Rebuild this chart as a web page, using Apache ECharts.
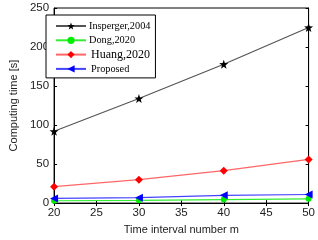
<!DOCTYPE html>
<html><head><meta charset="utf-8">
<script src="https://cdn.jsdelivr.net/npm/echarts@6/dist/echarts.min.js"></script>
<style>html,body{margin:0;padding:0;background:#fff}#c{width:318px;height:240px}</style>
</head><body><div id="c"></div>
<script>
const categories = [20, 30, 40, 50];
const insperger = [92, 134, 178, 225];
const dong = [3, 3.5, 4.5, 5.5];
const huang = [21, 30, 41.5, 56];
const proposed = [6, 7, 10, 11];
const xTicks = [20, 25, 30, 35, 40, 45, 50];
const yTicks = [0, 50, 100, 150, 200, 250];

const star = 'path://M0,-10 L2.35,-3.24 9.51,-3.09 3.8,1.24 5.88,8.09 0,4 -5.88,8.09 -3.8,1.24 -9.51,-3.09 -2.35,-3.24Z';
const chart = echarts.init(document.getElementById('c'));
function pts(arr){ return categories.map((c,i)=>[c, arr[i]]); }
const lbl = {color:'#222', fontFamily:'Liberation Sans, Arial', fontSize:11.5};
function mk(name, data, color, lineColor, symbol, size, rot){
  return {name, type:'line', data:pts(data), symbol, symbolSize:size, symbolRotate:rot||0,
    lineStyle:{color:lineColor, width:1.2}, itemStyle:{color:color}, xAxisIndex:0, yAxisIndex:0, animation:false};
}
chart.setOption({
  animation:false,
  grid:{left:40, right:8, top:8, bottom:29, show:true, borderColor:'#000', borderWidth:1},
  legend:{left:46, top:15, orient:'vertical', itemGap:2.3, itemWidth:30, itemHeight:9,
    backgroundColor:'#fff', borderColor:'#000', borderWidth:1, padding:[5,5,3,9],
    textStyle:{fontFamily:'Liberation Serif, Times New Roman', fontSize:10.3, lineHeight:12, color:'#000', padding:[0,0,0,-2]},
    data:['Insperger,2004','Dong,2020',
      {name:'Huang,2020', textStyle:{fontSize:12, lineHeight:12, padding:[0,0,0,0]}},
      {name:'Proposed', textStyle:{padding:[0,0,0,0]}}]},
  xAxis:[{type:'value', min:20, max:50, interval:5, position:'bottom',
    name:'Time interval number m', nameLocation:'middle', nameGap:17,
    nameTextStyle:{color:'#222', fontFamily:'Liberation Sans, Arial', fontSize:11},
    axisLine:{lineStyle:{color:'#000'}}, axisTick:{inside:true, length:3, lineStyle:{color:'#000'}},
    axisLabel:Object.assign({margin:4}, lbl), splitLine:{show:false}},
   {type:'value', min:20, max:50, interval:5, position:'top',
    axisLine:{lineStyle:{color:'#000'}}, axisTick:{inside:true, length:3, lineStyle:{color:'#000'}},
    axisLabel:{show:false}, splitLine:{show:false}}],
  yAxis:[{type:'value', min:0, max:250, interval:50,
    name:'Computing time [s]', nameLocation:'middle', nameGap:30, nameRotate:90,
    nameTextStyle:{color:'#222', fontFamily:'Liberation Sans, Arial', fontSize:11},
    axisLine:{show:true, lineStyle:{color:'#000'}}, axisTick:{show:true, inside:true, length:3, lineStyle:{color:'#000'}},
    axisLabel:Object.assign({margin:5}, lbl), splitLine:{show:false}},
   {type:'value', min:0, max:250, interval:50, position:'right',
    axisLine:{show:true, lineStyle:{color:'#000'}}, axisTick:{show:true, inside:true, length:3, lineStyle:{color:'#000'}},
    axisLabel:{show:false}, splitLine:{show:false}}],
  series:[
    mk('Insperger,2004', insperger, '#000', '#555', star, 9),
    mk('Dong,2020', dong, '#00ee00', '#33ee33', 'circle', 6),
    mk('Huang,2020', huang, '#ff0000', '#ff6666', 'diamond', 8),
    mk('Proposed', proposed, '#0000ff', '#4444ff', 'triangle', 8, 90)
  ]
});
</script></body></html>
